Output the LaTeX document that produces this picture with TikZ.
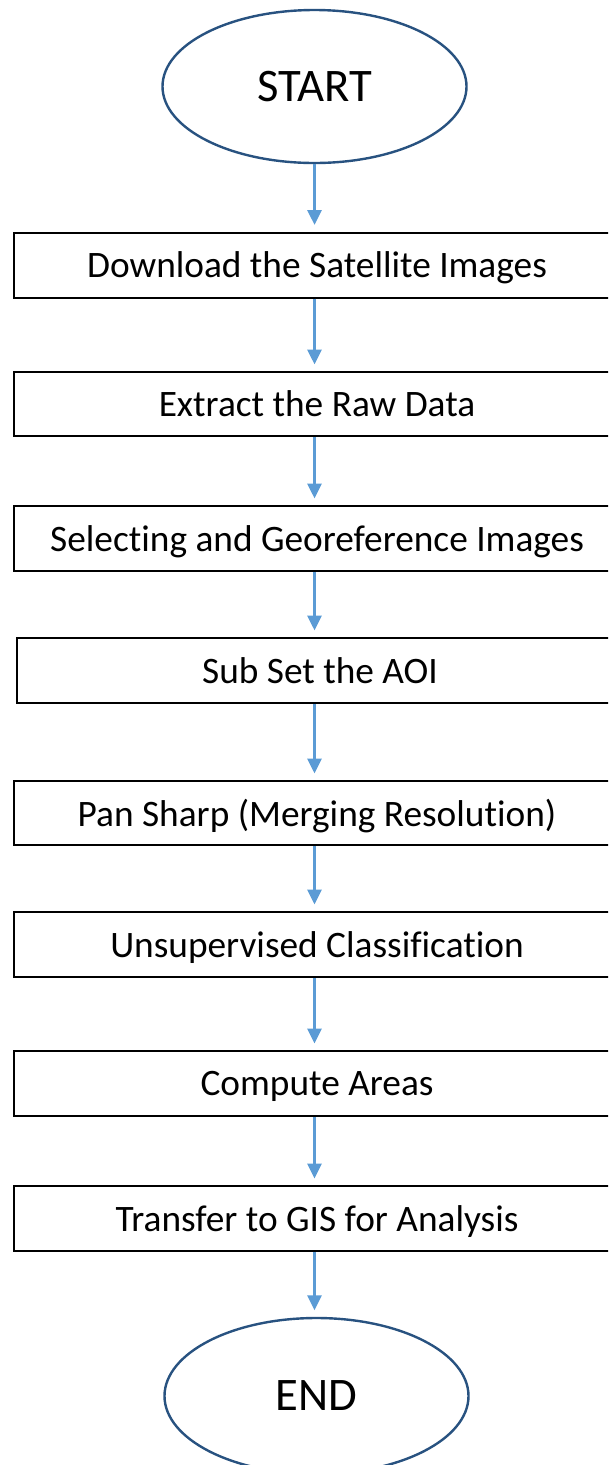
\documentclass[tikz,border=0pt]{standalone}
\usepackage{fontspec}
\setmainfont[Ligatures={NoCommon,NoContextual,NoRare}]{Carlito}
\usetikzlibrary{shapes.geometric,arrows.meta}
\definecolor{arrowblue}{RGB}{91,155,213}
\definecolor{ellblue}{RGB}{40,82,128}
\begin{document}
\begin{tikzpicture}[x=0.75pt,y=-0.75pt,
  stepbox/.style={draw=black,line width=1.5pt,rectangle,minimum width=606*0.75pt,minimum height=65*0.75pt,inner sep=0pt,text depth=0pt,font=\fontsize{28}{32}\selectfont},
  terminal/.style={draw=ellblue,line width=1.8pt,ellipse,minimum width=304*0.75pt,minimum height=153*0.75pt,inner sep=0pt,font=\fontsize{35}{40}\selectfont},
  flow/.style={draw=arrowblue,line width=1.6pt,-{Triangle[width=10.5pt,length=11pt]},shorten >=5pt}]
\useasboundingbox (0,0) rectangle (608,1465);
\clip (0,0) rectangle (608,1465);
\node[terminal] (start) at (314.5,86.5) {START};
\node[stepbox] (b1) at (317,265) {Download the Satellite Images};
\node[stepbox,minimum height=64*0.75pt] (b2) at (317,404) {Extract the Raw Data};
\node[stepbox] (b3) at (317,538.5) {Selecting and Georeference Images};
\node[stepbox] (b4) at (320,670.5) {Sub Set the AOI};
\node[stepbox,minimum height=64*0.75pt] (b5) at (317,813) {Pan Sharp (Merging Resolution)};
\node[stepbox] (b6) at (317,944.5) {Unsupervised Classification};
\node[stepbox] (b7) at (317,1083.5) {Compute Areas};
\node[stepbox] (b8) at (317,1218.5) {Transfer to GIS for Analysis};
\node[terminal,minimum height=156*0.75pt] (end) at (316.5,1396) {END};
\draw[flow] (start.south) -- (start.south |- b1.north);
\draw[flow] (b1.south -| start.south) -- (start.south |- b2.north);
\draw[flow] (b2.south -| start.south) -- (start.south |- b3.north);
\draw[flow] (b3.south -| start.south) -- (start.south |- b4.north);
\draw[flow] (b4.south -| start.south) -- (start.south |- b5.north);
\draw[flow] (b5.south -| start.south) -- (start.south |- b6.north);
\draw[flow] (b6.south -| start.south) -- (start.south |- b7.north);
\draw[flow] (b7.south -| start.south) -- (start.south |- b8.north);
\draw[flow] (b8.south -| start.south) -- (start.south |- end.north);
\end{tikzpicture}
\end{document}
